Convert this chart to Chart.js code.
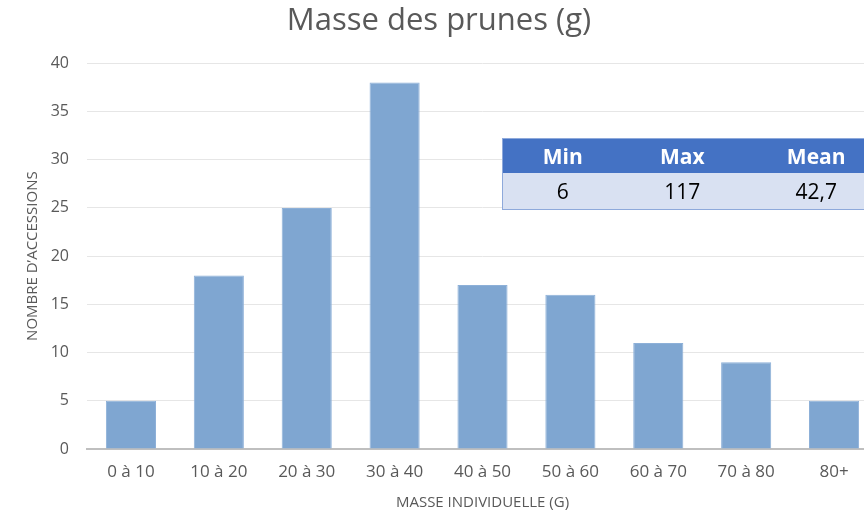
<!DOCTYPE html>
<html>
<head>
<meta charset="utf-8">
<script src="https://cdn.jsdelivr.net/npm/chart.js@4.4.1/dist/chart.umd.min.js"></script>
<style>
  html, body { margin: 0; padding: 0; overflow: hidden; background: #fff; width: 864px; height: 512px; }
  #wrap { position: relative; width: 890px; height: 512px; }
  canvas { position: absolute; left: 0; top: 0; }
  #stats { position: absolute; left: 502px; top: 138px; border-collapse: collapse; font-family: "Open Sans", sans-serif; font-size: 21px; table-layout: fixed; }
  #stats th { background: #4472C4; color: #fff; font-weight: bold; height: 34px; text-align: center; padding: 0; }
  #stats td { background: #D9E1F2; color: #000; height: 36px; text-align: center; padding: 0; border-bottom: 1px solid #8EA9DB; }
  #stats tr:first-child th { border-top: 1px solid #8EA9DB; }
  #stats th:first-child, #stats td:first-child { border-left: 1px solid #8EA9DB; }
</style>
</head>
<body>
<div id="wrap">
  <canvas id="c" width="890" height="512"></canvas>
  <table id="stats">
    <colgroup><col style="width:122px"><col style="width:122px"><col style="width:150px"></colgroup>
    <tr id="statHead"></tr>
    <tr id="statBody"></tr>
  </table>
</div>
<script>
const categories = ["0 à 10", "10 à 20", "20 à 30", "30 à 40", "40 à 50", "50 à 60", "60 à 70", "70 à 80", "80+"];
const counts = [5, 18, 25, 38, 17, 16, 11, 9, 5];
const statLabels = ["Min", "Max", "Mean"];
const statValues = ["6", "117", "42,7"];

document.getElementById('statHead').innerHTML = statLabels.map(s => '<th>' + s + '</th>').join('');
document.getElementById('statBody').innerHTML = statValues.map(s => '<td>' + s + '</td>').join('');

const FONT = '"Open Sans", sans-serif';
new Chart(document.getElementById('c'), {
  type: 'bar',
  data: {
    labels: categories,
    datasets: [{
      data: counts,
      backgroundColor: '#7FA6D1',
      borderColor: '#8DB0D8',
      borderWidth: 1,
      categoryPercentage: 1,
      barPercentage: 0.57
    }]
  },
  options: {
    responsive: false,
    animation: false,
    layout: { padding: { left: 0, right: 12, top: 0, bottom: 0 } },
    plugins: {
      legend: { display: false },
      tooltip: { enabled: false },
      title: {
        display: true,
        text: 'Masse des prunes (g)',
        color: '#595959',
        font: { family: FONT, size: 31, weight: 'normal' },
        padding: { top: 3, bottom: 23 }
      }
    },
    scales: {
      x: {
        grid: { display: false },
        border: { display: true, color: '#BFBFBF', width: 2 },
        ticks: { color: '#595959', font: { family: FONT, size: 17 }, padding: 5, maxRotation: 0, autoSkip: false },
        title: { display: true, text: 'MASSE INDIVIDUELLE (G)', color: '#595959', font: { family: FONT, size: 15 }, padding: { top: 5, bottom: 0 } },
        afterFit: s => { s.height = 63; }
      },
      y: {
        min: 0, max: 40,
        ticks: { stepSize: 5, color: '#595959', font: { family: FONT, size: 16 }, padding: 18 },
        grid: { color: '#E6E6E6', lineWidth: 1, drawTicks: false },
        border: { display: false },
        title: { display: true, text: 'NOMBRE D’ACCESSIONS', color: '#595959', font: { family: FONT, size: 15 }, padding: { top: 24, bottom: 0 } },
        afterFit: s => { s.width = 87; }
      }
    }
  }
});
</script>
</body>
</html>
